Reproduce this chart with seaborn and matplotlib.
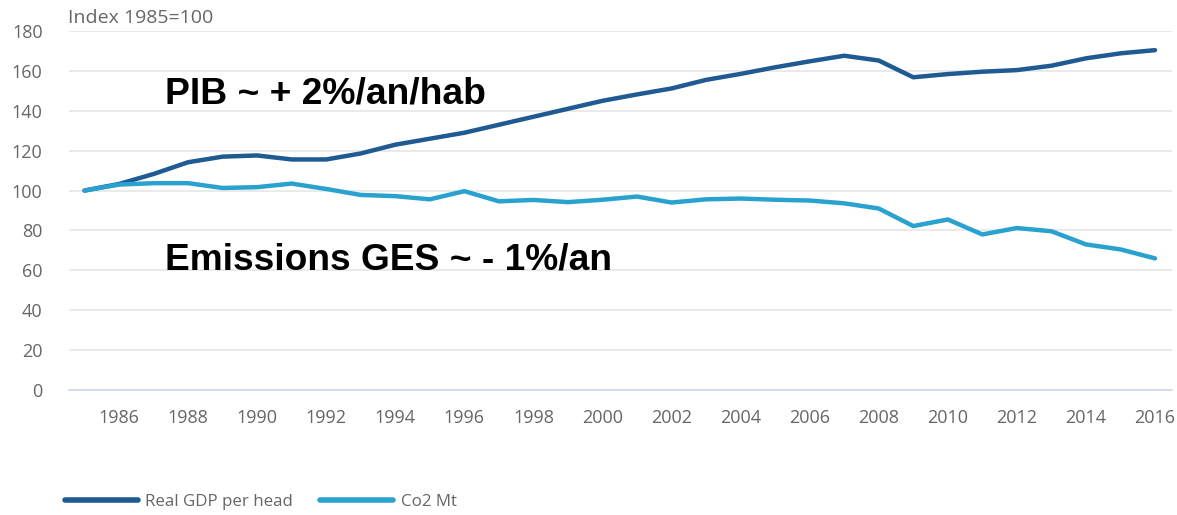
import matplotlib
matplotlib.use("Agg")
import matplotlib.pyplot as plt
import numpy as np
import pandas as pd
import seaborn as sns

# values (index 1985 = 100)
years = list(range(1985, 2017))
gdp_per_head = [100, 103.3, 108.3, 114.2, 117, 117.6, 115.6, 115.6, 118.6, 123,
                126, 129, 133, 137, 141, 145, 148.2, 151.2, 155.5, 158.5,
                161.8, 164.8, 167.6, 165.2, 156.8, 158.4, 159.6, 160.4, 162.6, 166.3,
                168.8, 170.4]
co2_mt = [100, 103, 103.7, 103.7, 101.3, 101.7, 103.5, 100.8, 97.8, 97.2,
          95.6, 99.7, 94.6, 95.3, 94.2, 95.4, 97, 94, 95.6, 96,
          95.4, 95, 93.6, 91, 82.2, 85.5, 78, 81.2, 79.6, 73,
          70.5, 66]
series_names = ["Real GDP per head", "Co2 Mt"]
series_colors = ["#1f5a93", "#2aa2cf"]

df = pd.DataFrame({
    "year": years * 2,
    "value": gdp_per_head + co2_mt,
    "series": [series_names[0]] * len(years) + [series_names[1]] * len(years),
})

sns.set_theme(style="white")
plt.rcParams["font.family"] = ["Open Sans", "DejaVu Sans"]

fig = plt.figure(figsize=(11.77, 5.15), dpi=100)
ax = fig.add_axes([0.0586, 0.2427, 0.9371, 0.6971])

sns.lineplot(data=df, x="year", y="value", hue="series",
             palette=dict(zip(series_names, series_colors)),
             linewidth=3.2, ax=ax, legend=False)

ax.set_xlim(1984.55, 2016.49)
ax.set_ylim(0, 180)
ax.set_yticks(np.arange(0, 181, 20))
ax.set_xticks(np.arange(1986, 2017, 2))
ax.yaxis.grid(True, color="#e6e6e6", linewidth=1.2)
ax.xaxis.grid(False)
ax.set_axisbelow(True)
for side in ["top", "right", "left"]:
    ax.spines[side].set_visible(False)
ax.spines["bottom"].set_color("#ccd6eb")
ax.spines["bottom"].set_linewidth(1.2)
ax.tick_params(axis="x", colors="#666666", labelsize=13, length=11,
               width=1.2, color="#ccd6eb", direction="out", pad=3)
ax.tick_params(axis="y", colors="#666666", labelsize=13, length=0, pad=19)
ax.set_xlabel("")
ax.set_ylabel("")

fig.text(0.058, 0.965, "Index 1985=100", color="#666666", fontsize=14,
         ha="left", va="center")

ax.text(1987.33, 148.5, "PIB ~ + 2%/an/hab", fontsize=26.8, fontweight="bold",
        family="Liberation Sans", color="black", va="center", ha="left")
ax.text(1987.33, 65, "Emissions GES ~ - 1%/an", fontsize=26.7, fontweight="bold",
        family="Liberation Sans", color="black", va="center", ha="left")

handles = [plt.Line2D([], [], color=c, linewidth=4) for c in series_colors]
leg = fig.legend(handles, series_names, loc="center left",
                 bbox_to_anchor=(0.042, 0.025), ncol=2, frameon=False,
                 fontsize=12.2, handlelength=4.3, handletextpad=0.45,
                 columnspacing=1.6)
for t in leg.get_texts():
    t.set_color("#666666")

fig.savefig("out.png", dpi=100)
